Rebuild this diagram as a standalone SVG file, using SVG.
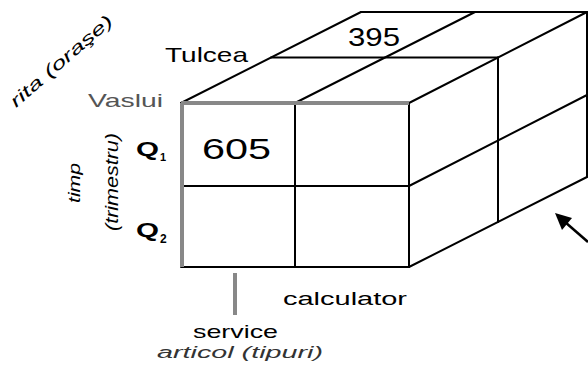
<svg xmlns="http://www.w3.org/2000/svg" width="588" height="371" viewBox="0 0 588 371">
<defs>
<style>
.ln{stroke:#000;stroke-width:2;fill:none;stroke-linecap:round}
.gr{stroke:#888;stroke-width:4;fill:none}
.t{font-family:"Liberation Sans",Arial,sans-serif;fill:#000}
.it{font-style:italic}
</style>
</defs>
<rect width="588" height="371" fill="#fff"/>
<g id="cube">
<g id="top-face">
<line class="ln" x1="271" y1="57.5" x2="498" y2="57.5"/>
<line class="ln" x1="361" y1="12" x2="587" y2="12"/>
<line class="ln" x1="181" y1="103" x2="361" y2="12"/>
<line class="ln" x1="295" y1="103" x2="475" y2="12"/>
<line class="ln" x1="409" y1="103" x2="587" y2="12"/>
</g>
<g id="right-face">
<line class="ln" x1="498" y1="57.5" x2="498" y2="222"/>
<line class="ln" x1="587" y1="12" x2="587" y2="177"/>
<line class="ln" x1="409" y1="186" x2="587" y2="95"/>
<line class="ln" x1="409" y1="267" x2="587" y2="177"/>
</g>
<g id="front-face">
<line class="ln" x1="409" y1="103" x2="409" y2="267"/>
<line class="ln" x1="181" y1="267" x2="409" y2="267"/>
<line class="ln" x1="295" y1="103" x2="295" y2="267"/>
<line class="ln" x1="181" y1="186" x2="409" y2="186"/>
<line class="gr" x1="181" y1="103" x2="409" y2="103"/>
<line class="gr" x1="182" y1="103" x2="182" y2="267"/>
</g>
</g>
<g id="cell-605"><text class="t" x="202" y="159" font-size="29" textLength="69" lengthAdjust="spacingAndGlyphs">605</text></g>
<g id="cell-395"><text class="t" x="348" y="46" font-size="26" textLength="52" lengthAdjust="spacingAndGlyphs">395</text></g>
<g id="axis-labels">
<text class="t" x="165" y="62" font-size="21" textLength="83" lengthAdjust="spacingAndGlyphs">Tulcea</text>
<text class="t" x="88" y="107" font-size="19" style="fill:#555" textLength="75" lengthAdjust="spacingAndGlyphs">Vaslui</text>
<text class="t it" transform="translate(16,108) rotate(-41)" font-size="17" textLength="130" lengthAdjust="spacingAndGlyphs">rita (oraşe)</text>
<text class="t" x="136" y="156" font-size="21" font-weight="bold" textLength="23" lengthAdjust="spacingAndGlyphs">Q</text>
<text class="t" x="160" y="161" font-size="11" font-weight="bold">1</text>
<text class="t" x="136" y="237" font-size="21" font-weight="bold" textLength="23" lengthAdjust="spacingAndGlyphs">Q</text>
<text class="t" x="160" y="243" font-size="12" font-weight="bold">2</text>
<text class="t it" transform="translate(80,203) rotate(-90)" font-size="16" textLength="40" lengthAdjust="spacingAndGlyphs">timp</text>
<text class="t it" transform="translate(118,231) rotate(-90)" font-size="18" textLength="98" lengthAdjust="spacingAndGlyphs">(trimestru)</text>
<text class="t" x="283" y="305" font-size="18" textLength="124" lengthAdjust="spacingAndGlyphs">calculator</text>
<text class="t" x="193" y="338" font-size="19" textLength="85" lengthAdjust="spacingAndGlyphs">service</text>
<text class="t it" x="157" y="358" font-size="16" style="fill:#333" textLength="166" lengthAdjust="spacingAndGlyphs">articol (tipuri)</text>
</g>
<g id="connectors">
<line class="gr" x1="235" y1="273" x2="235" y2="315"/>
<line x1="588" y1="242" x2="565" y2="222" stroke="#000" stroke-width="2.5"/>
<polygon points="555,213 572,218 562,230" fill="#000"/>
</g>
</svg>
